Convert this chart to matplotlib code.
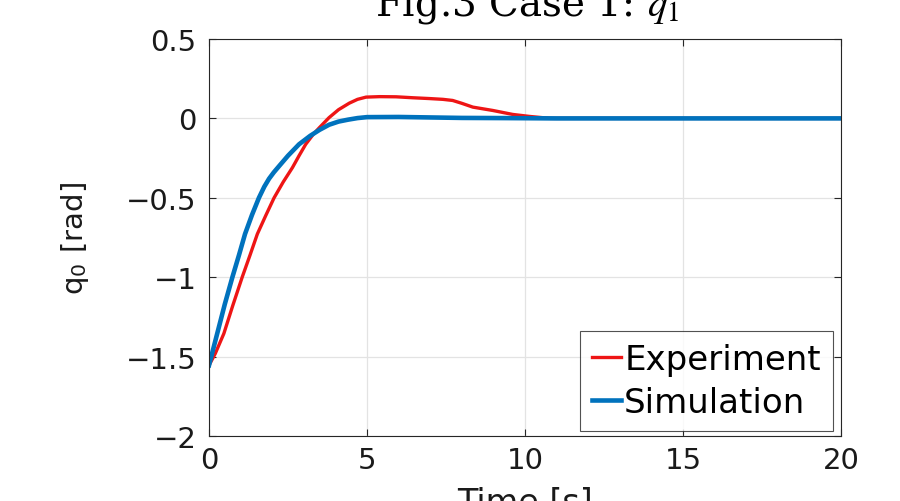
import numpy as np
import matplotlib.pyplot as plt

plt.rcParams['font.family'] = ['DejaVu Sans']
plt.rcParams['mathtext.fontset'] = 'stix'

# DATA
t_sim = [0.0, 0.26, 0.5, 0.74, 0.95, 1.14, 1.36, 1.58, 1.75, 1.9, 2.05, 2.22, 2.5,
         2.85, 3.2, 3.5, 3.8, 4.1, 4.4, 4.7, 5.0, 6.0, 7.0, 8.0, 9.3, 11.0, 20.0]
q_sim = [-1.555, -1.355, -1.17, -1.0, -0.86, -0.728, -0.608, -0.5, -0.43, -0.38,
         -0.34, -0.30, -0.235, -0.163, -0.11, -0.072, -0.04, -0.02, -0.008, 0.002,
         0.008, 0.009, 0.006, 0.003, 0.002, 0.0, 0.0]

t_exp = [0.0, 0.2, 0.47, 0.75, 1.05, 1.3, 1.53, 1.8, 2.06, 2.35, 2.64, 2.85, 3.06,
         3.3, 3.49, 3.8, 4.1, 4.44, 4.7, 4.97, 5.4, 5.92, 6.45, 6.97, 7.4, 7.71,
         8.0, 8.35, 8.98, 9.61, 10.14, 10.8, 20.0]
q_exp = [-1.555, -1.48, -1.355, -1.18, -1.0, -0.86, -0.728, -0.61, -0.5, -0.40,
         -0.31, -0.235, -0.163, -0.10, -0.059, 0.005, 0.055, 0.096, 0.12, 0.134,
         0.137, 0.136, 0.13, 0.125, 0.12, 0.113, 0.095, 0.071, 0.05, 0.025,
         0.0125, 0.0, 0.0]

xticks = [0, 5, 10, 15, 20]
yticks = [-2, -1.5, -1, -0.5, 0, 0.5]
ytick_labels = ['\u22122', '\u22121.5', '\u22121', '\u22120.5', '0', '0.5']

fig = plt.figure(figsize=(9, 5.02), dpi=100)
ax = fig.add_axes([209/900, 1 - 437/502, (841 - 209)/900, (437 - 40)/502])

ax.plot(t_exp, q_exp, color='#ee1515', lw=2.4, label='Experiment')
ax.plot(t_sim, q_sim, color='#0072BD', lw=3.3, label='Simulation')

ax.set_xlim(0, 20)
ax.set_ylim(-2, 0.5)
ax.set_xticks(xticks)
ax.set_yticks(yticks)
ax.set_yticklabels(ytick_labels)
ax.grid(True, color='#e3e3e3', lw=0.9)
ax.set_axisbelow(True)
for s in ax.spines.values():
    s.set_color('#262626')
    s.set_linewidth(0.8)
ax.tick_params(direction='in', top=True, right=True, length=5, width=0.8,
               labelsize=21, colors='#262626', labelcolor='#1a1a1a')
ax.tick_params(axis='y', pad=9)
ax.tick_params(axis='x', pad=7)

ax.set_ylabel('q$_{\\mathregular{0}}$ [rad]', fontsize=21, color='#1a1a1a', labelpad=25)

leg = ax.legend(loc='lower right', bbox_to_anchor=(0.987, 0.013), fontsize=24.5,
                handlelength=0.85, handletextpad=0.1, borderpad=0.35,
                labelspacing=0.3, frameon=True, fancybox=False,
                borderaxespad=0)
leg.get_frame().set_edgecolor('#262626')
leg.get_frame().set_linewidth(0.8)

fig.text(527/900, 1 - 15/502, 'Fig.3 Case 1: $q_1$', fontsize=28,
         family='DejaVu Serif', ha='center', va='baseline')
fig.text(525/900, 1 - 512/502, 'Time [s]', fontsize=24, color='#1a1a1a',
         ha='center', va='baseline')

fig.savefig('out.png', dpi=100)
